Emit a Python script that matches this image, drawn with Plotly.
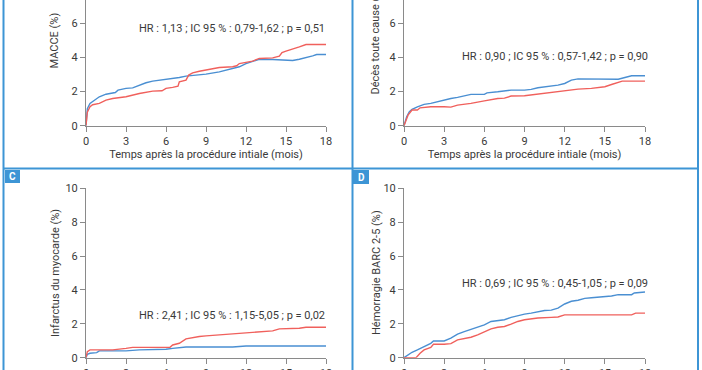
import plotly.graph_objects as go

W, H = 702, 370

# ---------------- data ----------------
months_ticks = [0, 3, 6, 9, 12, 15, 18]
y_ticks = [0, 2, 4, 6, 8, 10]

a_blue_t = [0, 0.1, 0.3, 1, 1.5, 2, 2.2, 2.4, 3, 3.5, 4, 4.5, 5, 6, 6.5, 7, 7.5, 8, 9, 10, 11, 11.5, 12, 12.5, 13, 14, 15, 15.5, 16, 16.5, 17, 17.3, 18]
a_blue_v = [0, 1.0, 1.31, 1.7, 1.85, 1.91, 1.95, 2.09, 2.19, 2.22, 2.38, 2.52, 2.62, 2.71, 2.77, 2.83, 2.91, 2.95, 3.03, 3.16, 3.34, 3.46, 3.65, 3.79, 3.9, 3.89, 3.87, 3.83, 3.9, 3.98, 4.1, 4.18, 4.18]
a_red_t = [0, 0.1, 0.3, 0.5, 1, 1.5, 2, 3, 4, 5, 5.7, 6, 6.5, 6.9, 7, 7.5, 7.7, 8, 8.5, 9, 9.5, 10, 11, 11.3, 11.5, 12, 12.5, 13, 14, 14.5, 14.7, 15, 15.5, 16, 16.5, 18]
a_red_v = [0, 0.8, 1.11, 1.23, 1.31, 1.5, 1.6, 1.7, 1.89, 2.03, 2.05, 2.19, 2.25, 2.32, 2.58, 2.68, 2.97, 3.1, 3.2, 3.26, 3.36, 3.42, 3.46, 3.52, 3.65, 3.73, 3.79, 3.95, 3.98, 4.08, 4.3, 4.38, 4.49, 4.63, 4.77, 4.77]

b_blue_t = [0, 0.2, 0.4, 0.6, 1, 1.5, 2, 2.5, 3, 3.5, 4, 4.5, 5, 6, 6.2, 7, 8, 9, 9.5, 10, 11, 11.5, 12, 12.5, 13, 14, 16, 16.5, 17, 18]
b_blue_v = [0, 0.53, 0.82, 0.96, 1.11, 1.25, 1.31, 1.41, 1.54, 1.6, 1.66, 1.74, 1.84, 1.84, 1.93, 1.99, 2.09, 2.09, 2.13, 2.23, 2.32, 2.38, 2.48, 2.68, 2.75, 2.73, 2.73, 2.83, 2.93, 2.93]
b_red_t = [0, 0.3, 0.6, 1, 1.2, 2, 3, 3.5, 4, 5, 6, 7, 7.5, 8, 9, 10, 11, 12, 13, 14, 15, 15.5, 16, 16.3, 18]
b_red_v = [0, 0.62, 0.92, 0.92, 1.05, 1.11, 1.11, 1.09, 1.21, 1.31, 1.46, 1.6, 1.62, 1.74, 1.76, 1.86, 1.95, 2.09, 2.15, 2.19, 2.29, 2.42, 2.52, 2.62, 2.62]

c_blue_t = [0, 0.1, 0.3, 0.8, 1, 2, 3, 4, 5, 6, 6.5, 7, 7.5, 9, 11, 12, 18]
c_blue_v = [0, 0.2, 0.26, 0.3, 0.4, 0.4, 0.4, 0.46, 0.46, 0.5, 0.55, 0.59, 0.63, 0.63, 0.63, 0.69, 0.69]
c_red_t = [0, 0.1, 0.3, 1, 2, 3, 3.5, 4, 5, 6.3, 6.5, 7, 7.5, 8, 8.5, 9, 10, 11, 11.5, 12, 13, 14, 14.5, 15.5, 16, 16.5, 18]
c_red_v = [0, 0.36, 0.46, 0.46, 0.46, 0.55, 0.61, 0.61, 0.61, 0.61, 0.75, 0.85, 1.11, 1.19, 1.25, 1.29, 1.35, 1.39, 1.45, 1.49, 1.54, 1.58, 1.7, 1.7, 1.74, 1.8, 1.8]

d_blue_t = [0, 0.3, 0.6, 1, 1.5, 2, 2.2, 3, 3.5, 4, 4.5, 5, 5.5, 6, 6.5, 7, 7.5, 8, 8.5, 9, 9.5, 10, 10.5, 11, 11.5, 12, 12.5, 13, 13.5, 14, 15, 15.5, 16, 17, 17.2, 17.7, 18]
d_blue_v = [0, 0.16, 0.32, 0.46, 0.65, 0.85, 0.99, 0.99, 1.15, 1.39, 1.54, 1.68, 1.78, 1.94, 2.14, 2.18, 2.24, 2.38, 2.48, 2.57, 2.63, 2.73, 2.79, 2.81, 2.93, 3.17, 3.33, 3.39, 3.5, 3.54, 3.6, 3.64, 3.72, 3.72, 3.82, 3.88, 3.88]
d_red_t = [0, 0.9, 1.2, 1.5, 2, 2.2, 3, 3.5, 4, 5, 5.5, 6, 6.5, 7, 7.5, 8, 8.5, 9, 10, 11, 11.5, 12, 13, 15, 17, 17.3, 18]
d_red_v = [0, 0, 0.26, 0.46, 0.61, 0.79, 0.79, 0.83, 1.05, 1.21, 1.35, 1.54, 1.7, 1.8, 1.84, 1.98, 2.14, 2.24, 2.34, 2.38, 2.4, 2.53, 2.53, 2.53, 2.53, 2.63, 2.63]

y_titles = ["MACCE (%)", "Décès toute cause (%)", "Infarctus du myocarde (%)", "Hémorragie BARC 2-5 (%)"]
x_title = "Temps après la procédure intiale (mois)"
hr_texts = [
    "HR : 1,13 ; IC 95 % : 0,79-1,62 ; p = 0,51",
    "HR : 0,90 ; IC 95 % : 0,57-1,42 ; p = 0,90",
    "HR : 2,41 ; IC 95 % : 1,15-5,05 ; p = 0,02",
    "HR : 0,69 ; IC 95 % : 0,45-1,05 ; p = 0,09",
]
hr_y = [5.68, 4.05, 2.47, 4.38]
panel_letters = ["C", "D"]

# ---------------- style ----------------
BLUE = "#4a8fd2"
RED = "#f0605c"
FRAME = "#3d95d5"
AXIS = "#8a8a8a"
TXT = "#3a3a3a"
FONT = "Roboto, sans-serif"
FS = 11

px_per_unit = 17.03
top_y0 = 125.7
bot_y0, bot_y10 = 357.7, 188.3
xA = (86, 326)
xB = (404, 645)

fig = go.Figure()

series = [
    (a_blue_t, a_blue_v, a_red_t, a_red_v),
    (b_blue_t, b_blue_v, b_red_t, b_red_v),
    (c_blue_t, c_blue_v, c_red_t, c_red_v),
    (d_blue_t, d_blue_v, d_red_t, d_red_v),
]

for i, (bt, bv, rt, rv) in enumerate(series):
    xa = "x" if i == 0 else f"x{i+1}"
    ya = "y" if i == 0 else f"y{i+1}"
    fig.add_trace(go.Scatter(x=bt, y=bv, mode="lines", line=dict(color=BLUE, width=1.4),
                             xaxis=xa, yaxis=ya, showlegend=False, hoverinfo="skip", cliponaxis=False))
    fig.add_trace(go.Scatter(x=rt, y=rv, mode="lines", line=dict(color=RED, width=1.4),
                             xaxis=xa, yaxis=ya, showlegend=False, hoverinfo="skip", cliponaxis=False))

def xdom(p):
    return [p[0] / W, p[1] / W]

axis_common = dict(showgrid=False, zeroline=False, showline=True, linecolor=AXIS, linewidth=1,
                   ticks="outside", ticklen=5, tickcolor=AXIS, tickwidth=1, automargin=False,
                   tickfont=dict(family=FONT, size=FS, color=TXT), fixedrange=True)

top_dom = [(H - top_y0) / H, 1]
bot_dom = [(H - bot_y0) / H, (H - bot_y10) / H]
top_range = [0, top_y0 / px_per_unit]

layout_axes = {}
for i in range(4):
    xd = xdom(xA if i % 2 == 0 else xB)
    yd = top_dom if i < 2 else bot_dom
    yr = top_range if i < 2 else [0, 10]
    sfx = "" if i == 0 else str(i + 1)
    anchor_x = "y" if i == 0 else f"y{i+1}"
    anchor_y = "x" if i == 0 else f"x{i+1}"
    xa_def = dict(domain=xd, range=[0, 18], tickvals=months_ticks, anchor=anchor_x, **axis_common)
    if i < 2:
        xa_def["title"] = dict(text=x_title, font=dict(family=FONT, size=FS, color=TXT), standoff=2)
    layout_axes[f"xaxis{sfx}"] = xa_def
    layout_axes[f"yaxis{sfx}"] = dict(domain=yd, range=yr, tickvals=y_ticks, anchor=anchor_y, **axis_common)

fig.update_layout(width=W, height=H, margin=dict(l=0, r=0, t=0, b=0, autoexpand=False), paper_bgcolor="white",
                  plot_bgcolor="white", **layout_axes)

annotations = []
ytitle_x = [55, 376, 55, 376]
for i in range(4):
    sfx = "" if i == 0 else str(i + 1)
    annotations.append(dict(text=y_titles[i], xref="paper", x=ytitle_x[i] / W, yref=f"y{sfx}", y=5,
                            textangle=-90, showarrow=False, xanchor="center", yanchor="middle",
                            font=dict(family=FONT, size=FS, color=TXT)))
    annotations.append(dict(text=hr_texts[i], xref=f"x{sfx}", x=18, yref=f"y{sfx}", y=hr_y[i],
                            xanchor="right", yanchor="middle", showarrow=False, xshift=(1 if i % 2 == 0 else 5),
                            font=dict(family=FONT, size=FS, color=TXT)))

# panel letter boxes
shapes = []
boxes = [(5, 20, 170, 183), (353, 369, 170, 184)]
for (x0, x1, y0, y1), letter in zip(boxes, panel_letters):
    shapes.append(dict(type="rect", xref="paper", yref="paper", x0=x0 / W, x1=x1 / W,
                       y0=(H - y1) / H, y1=(H - y0) / H, fillcolor=FRAME, line=dict(width=0), layer="above"))
    annotations.append(dict(text=f"<b>{letter}</b>", xref="paper", yref="paper", x=(x0 + x1) / 2 / W,
                            y=(H - (y0 + y1) / 2) / H, showarrow=False, xanchor="center", yanchor="middle",
                            font=dict(family=FONT, size=10, color="white")))

# frame lines
for xv in [3.5, 352.5, 698]:
    shapes.append(dict(type="line", xref="paper", yref="paper", x0=xv / W, x1=xv / W, y0=0, y1=1,
                       line=dict(color=FRAME, width=2)))
shapes.append(dict(type="line", xref="paper", yref="paper", x0=3.5 / W, x1=698 / W,
                   y0=(H - 168.5) / H, y1=(H - 168.5) / H, line=dict(color=FRAME, width=2)))

fig.update_layout(annotations=annotations, shapes=shapes)
fig.write_html("out.html", config={"displayModeBar": False, "staticPlot": True},
               post_script="document.body.style.margin='0';document.body.style.overflow='hidden';")
